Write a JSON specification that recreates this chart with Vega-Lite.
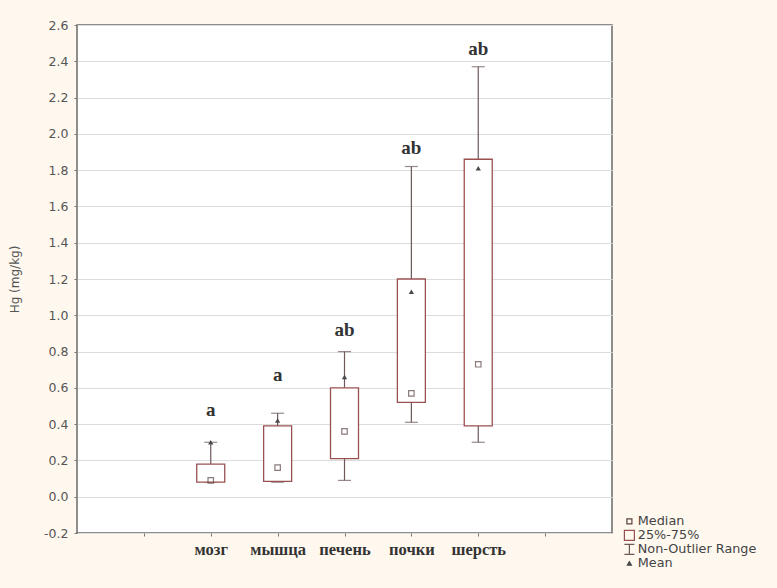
{
  "$schema": "https://vega.github.io/schema/vega-lite/v6.json",
  "width": 535,
  "height": 508,
  "autosize": {"type": "none"},
  "padding": {"left": 77, "top": 25, "right": 165, "bottom": 55},
  "background": "#fef8ef",
  "config": {
    "view": {"fill": "white", "stroke": "#6a6a6a", "strokeWidth": 1.5},
    "axis": {"labelFont": "DejaVu Sans", "titleFont": "DejaVu Sans", "labelColor": "#555", "titleColor": "#555", "domain": false, "tickColor": "#777", "labelOverlap": false}
  },
  "data": {"values": [
    {"organ": "мозг", "wlo": 0.08, "q1": 0.08, "med": 0.09, "q3": 0.18, "whi": 0.30, "mean": 0.30, "letter": "a", "letter_y": 0.48},
    {"organ": "мышца", "wlo": 0.08, "q1": 0.085, "med": 0.16, "q3": 0.39, "whi": 0.46, "mean": 0.42, "letter": "a", "letter_y": 0.67},
    {"organ": "печень", "wlo": 0.09, "q1": 0.21, "med": 0.36, "q3": 0.60, "whi": 0.80, "mean": 0.66, "letter": "ab", "letter_y": 0.92},
    {"organ": "почки", "wlo": 0.41, "q1": 0.52, "med": 0.57, "q3": 1.20, "whi": 1.82, "mean": 1.13, "letter": "ab", "letter_y": 1.92},
    {"organ": "шерсть", "wlo": 0.30, "q1": 0.39, "med": 0.73, "q3": 1.86, "whi": 2.37, "mean": 1.81, "letter": "ab", "letter_y": 2.47}
  ]},
  "encoding": {
    "x": {"field": "organ", "type": "nominal",
      "scale": {"type": "point", "padding": 1, "domain": ["", "мозг", "мышца", "печень", "почки", "шерсть", " "]},
      "axis": {"title": null, "labelAngle": 0, "labelFont": "Liberation Serif", "labelFontWeight": "bold", "labelFontSize": 16.5, "labelColor": "#333", "tickSize": 3, "labelPadding": 5}}
  },
  "layer": [
    {
      "mark": {"type": "rule", "strokeWidth": 1.2},
      "encoding": {
        "y": {"field": "wlo", "type": "quantitative",
          "scale": {"domain": [-0.2, 2.6], "nice": false, "zero": false},
          "axis": {"title": "Hg (mg/kg)", "titleFontSize": 12, "titleFontWeight": "normal", "titlePadding": 22, "tickCount": 14, "labelExpr": "replace(format(datum.value, '.1f'), '−', '-')", "labelFontSize": 12.5, "grid": true, "gridColor": "#dcdcdc", "tickSize": 3, "labelPadding": 6}},
        "y2": {"field": "q1"},
        "color": {"datum": "Non-Outlier Range", "type": "nominal",
          "scale": {"domain": ["Median", "25%-75%", "Non-Outlier Range", "Mean"], "range": ["#5b4242", "#9a5050", "#6e5858", "#4a4a4a"]},
          "legend": {"title": null, "orient": "none", "legendX": 546, "legendY": 490, "labelFont": "DejaVu Sans", "labelFontSize": 12.8, "labelColor": "#444", "rowPadding": -1.5, "labelOffset": 2, "symbolStrokeWidth": 1.2,
            "encode": {"symbols": {"update": {
              "shape": {"signal": "datum.value === 'Mean' ? 'triangle-up' : datum.value === 'Non-Outlier Range' ? 'M-1,-1H1M0,-1V1M-1,1H1' : 'square'"},
              "size": {"signal": "datum.value === 'Median' ? 25 : datum.value === 'Mean' ? 16 : 100"},
              "fillOpacity": {"signal": "datum.value === 'Mean' ? 1 : 0"},
              "stroke": {"signal": "datum.value === '25%-75%' ? '#9a5050' : '#5b4242'"}
            }}}}
        }
      }
    },
    {
      "mark": {"type": "rule", "strokeWidth": 1.2},
      "encoding": {
        "y": {"field": "q3", "type": "quantitative"},
        "y2": {"field": "whi"},
        "color": {"datum": "Non-Outlier Range", "type": "nominal"}
      }
    },
    {
      "mark": {"type": "tick", "orient": "horizontal", "size": 13, "thickness": 1.2},
      "encoding": {
        "y": {"field": "wlo", "type": "quantitative"},
        "color": {"datum": "Non-Outlier Range", "type": "nominal"}
      }
    },
    {
      "mark": {"type": "tick", "orient": "horizontal", "size": 13, "thickness": 1.2},
      "encoding": {
        "y": {"field": "whi", "type": "quantitative"},
        "color": {"datum": "Non-Outlier Range", "type": "nominal"}
      }
    },
    {
      "mark": {"type": "bar", "orient": "vertical", "size": 28, "filled": false, "fill": "white", "strokeWidth": 1.3},
      "encoding": {
        "y": {"field": "q1", "type": "quantitative"},
        "y2": {"field": "q3"},
        "color": {"datum": "25%-75%", "type": "nominal"}
      }
    },
    {
      "mark": {"type": "point", "shape": "square", "size": 30, "filled": false, "strokeWidth": 1.2},
      "encoding": {
        "y": {"field": "med", "type": "quantitative"},
        "color": {"datum": "Median", "type": "nominal"}
      }
    },
    {
      "mark": {"type": "point", "shape": "triangle-up", "size": 28, "filled": true, "opacity": 1},
      "encoding": {
        "y": {"field": "mean", "type": "quantitative"},
        "color": {"datum": "Mean", "type": "nominal"}
      }
    },
    {
      "mark": {"type": "text", "font": "Liberation Serif", "fontWeight": "bold", "fontSize": 19, "color": "#333"},
      "encoding": {
        "y": {"field": "letter_y", "type": "quantitative"},
        "text": {"field": "letter"}
      }
    }
  ]
}
